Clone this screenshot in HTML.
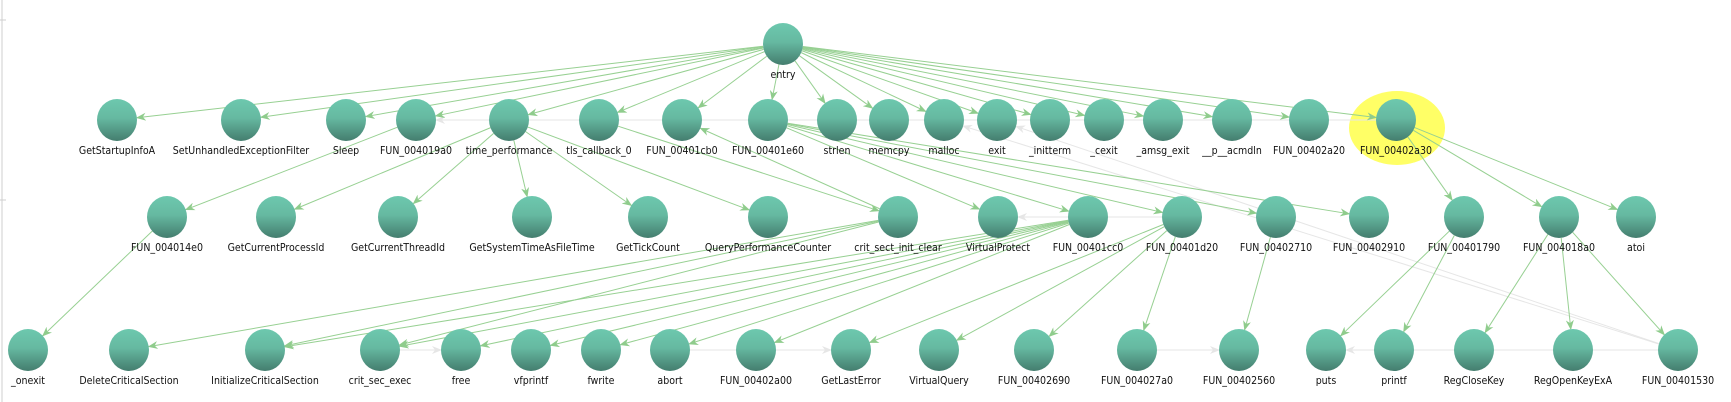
<!DOCTYPE html>
<html><head><meta charset="utf-8"><style>
html,body{margin:0;padding:0;background:#fff;width:1731px;height:402px;overflow:hidden}
svg text{font-family:"DejaVu Sans Condensed","DejaVu Sans","Liberation Sans",sans-serif;font-size:10.5px;fill:#111;text-anchor:middle}
</style></head><body>
<svg id="g" width="1731" height="402" viewBox="0 0 1731 402" xmlns="http://www.w3.org/2000/svg">
<defs>
<linearGradient id="ng" x1="0" y1="0" x2="0" y2="1"><stop offset="0" stop-color="#6dc8ae"/><stop offset="0.45" stop-color="#66b9a1"/><stop offset="1" stop-color="#447d6e"/></linearGradient>
<marker id="ag" markerWidth="10" markerHeight="8" refX="9" refY="4" orient="auto" markerUnits="userSpaceOnUse"><path d="M0,0 L10,4 L0,8 L3,4 Z" fill="#8fcc8c"/></marker>
<marker id="agr" markerWidth="10" markerHeight="8" refX="9" refY="4" orient="auto" markerUnits="userSpaceOnUse"><path d="M0,0 L10,4 L0,8 L3,4 Z" fill="#e6e6e6"/></marker>
</defs>
<line x1="2" y1="0" x2="2" y2="402" stroke="#cfcfcf"/>
<line x1="0" y1="20" x2="6" y2="20" stroke="#cfcfcf"/>
<line x1="0" y1="200" x2="6" y2="200" stroke="#cfcfcf"/>
<ellipse cx="1397" cy="128" rx="48" ry="37" fill="#ffff66"/>
<g id="edges"></g><g id="nodes"></g>
</svg>
<script>
const nodeNames=["entry","GetStartupInfoA","SetUnhandledExceptionFilter","Sleep","FUN_004019a0","time_performance","tls_callback_0","FUN_00401cb0","FUN_00401e60","strlen","memcpy","malloc","exit","_initterm","_cexit","_amsg_exit","__p__acmdln","FUN_00402a20","FUN_00402a30",
"FUN_004014e0","GetCurrentProcessId","GetCurrentThreadId","GetSystemTimeAsFileTime","GetTickCount","QueryPerformanceCounter","crit_sect_init_clear","VirtualProtect","FUN_00401cc0","FUN_00401d20","FUN_00402710","FUN_00402910","FUN_00401790","FUN_004018a0","atoi",
"_onexit","DeleteCriticalSection","InitializeCriticalSection","crit_sec_exec","free","vfprintf","fwrite","abort","FUN_00402a00","GetLastError","VirtualQuery","FUN_00402690","FUN_004027a0","FUN_00402560","puts","printf","RegCloseKey","RegOpenKeyExA","FUN_00401530"];
const nodeLevel=[0,1,1,1,1,1,1,1,1,1,1,1,1,1,1,1,1,1,1,2,2,2,2,2,2,2,2,2,2,2,2,2,2,2,3,3,3,3,3,3,3,3,3,3,3,3,3,3,3,3,3,3,3];
const nodeX=[783,117,241,346,416,509,599,682,768,837,889,944,997,1050,1104,1163,1232,1309,1396,167,276,398,532,648,768,898,998,1088,1182,1276,1369,1464,1559,1636,28,129,265,380,461,531,601,670,756,851,939,1034,1137,1239,1326,1394,1474,1573,1678];
const levelY=[44,120,217,350];
const callEdges=[["entry","GetStartupInfoA"],["entry","SetUnhandledExceptionFilter"],["entry","Sleep"],["entry","FUN_004019a0"],["entry","time_performance"],["entry","tls_callback_0"],["entry","FUN_00401cb0"],["entry","FUN_00401e60"],["entry","strlen"],["entry","memcpy"],["entry","malloc"],["entry","exit"],["entry","_initterm"],["entry","_cexit"],["entry","_amsg_exit"],["entry","__p__acmdln"],["entry","FUN_00402a20"],["entry","FUN_00402a30"],
["FUN_004019a0","FUN_004014e0"],["FUN_004014e0","_onexit"],["time_performance","GetCurrentProcessId"],["time_performance","GetCurrentThreadId"],["time_performance","GetSystemTimeAsFileTime"],["time_performance","GetTickCount"],["time_performance","QueryPerformanceCounter"],["tls_callback_0","crit_sect_init_clear"],["crit_sect_init_clear","FUN_00401cb0"],
["FUN_00401e60","VirtualProtect"],["FUN_00401e60","FUN_00401cc0"],["FUN_00401e60","FUN_00401d20"],["FUN_00401e60","FUN_00402710"],["FUN_00401e60","FUN_00402910"],
["crit_sect_init_clear","DeleteCriticalSection"],["crit_sect_init_clear","InitializeCriticalSection"],["crit_sect_init_clear","crit_sec_exec"],["FUN_00401cc0","free"],["FUN_00401cc0","vfprintf"],["FUN_00401cc0","fwrite"],["FUN_00401cc0","abort"],["FUN_00401cc0","FUN_00402a00"],["FUN_00401cc0","crit_sec_exec"],["FUN_00401cc0","InitializeCriticalSection"],
["FUN_00401d20","GetLastError"],["FUN_00401d20","VirtualQuery"],["FUN_00401d20","FUN_00402690"],["FUN_00401d20","FUN_004027a0"],["FUN_00402710","FUN_00402560"],
["FUN_00402a30","FUN_00401790"],["FUN_00402a30","FUN_004018a0"],["FUN_00402a30","atoi"],["FUN_00401790","puts"],["FUN_00401790","printf"],["FUN_004018a0","RegCloseKey"],["FUN_004018a0","RegOpenKeyExA"],["FUN_004018a0","FUN_00401530"]];
const greyEdges=[["FUN_00402a30","FUN_004019a0"],["FUN_00401530","malloc"],["FUN_00401530","exit"],["FUN_00401d20","VirtualProtect"],["crit_sec_exec","free"],["abort","GetLastError"],["FUN_004027a0","FUN_00402560"],["FUN_00401530","puts"]];
const RX=20,RY=21,NS="http://www.w3.org/2000/svg";
const idx={};nodeNames.forEach((n,i)=>idx[n]=i);
function pos(n){const i=idx[n];return [nodeX[i],levelY[nodeLevel[i]]];}
function edgePts(a,b){const [x1,y1]=pos(a),[x2,y2]=pos(b);const dx=x2-x1,dy=y2-y1;
 function k(dx,dy){return 1/Math.sqrt((dx*dx)/(RX*RX)+(dy*dy)/(RY*RY));}
 const t1=k(dx,dy),t2=k(-dx,-dy);return [x1+dx*t1,y1+dy*t1,x2-dx*t2,y2-dy*t2];}
const eg=document.getElementById('edges');
function drawEdge(e,grey){const p=edgePts(e[0],e[1]);const l=document.createElementNS(NS,'line');
 l.setAttribute('x1',p[0]);l.setAttribute('y1',p[1]);l.setAttribute('x2',p[2]);l.setAttribute('y2',p[3]);
 l.setAttribute('stroke',grey?'#e6e6e6':'#97d092');l.setAttribute('stroke-width','1');
 l.setAttribute('marker-end',grey?'url(#agr)':'url(#ag)');
 
 
 eg.appendChild(l);}
greyEdges.forEach(e=>drawEdge(e,true));
callEdges.forEach(e=>drawEdge(e,false));
const ng=document.getElementById('nodes');
nodeNames.forEach((n,i)=>{const [x,y]=pos(n);const g=document.createElementNS(NS,'g');
 
 
 const el=document.createElementNS(NS,'ellipse');el.setAttribute('cx',x);el.setAttribute('cy',y);el.setAttribute('rx',RX);el.setAttribute('ry',RY);el.setAttribute('fill','url(#ng)');
 const t=document.createElementNS(NS,'text');t.setAttribute('x',x);t.setAttribute('y',y+34);t.textContent=n;
 
 
 g.appendChild(el);g.appendChild(t);ng.appendChild(g);});
</script>
</body></html>
